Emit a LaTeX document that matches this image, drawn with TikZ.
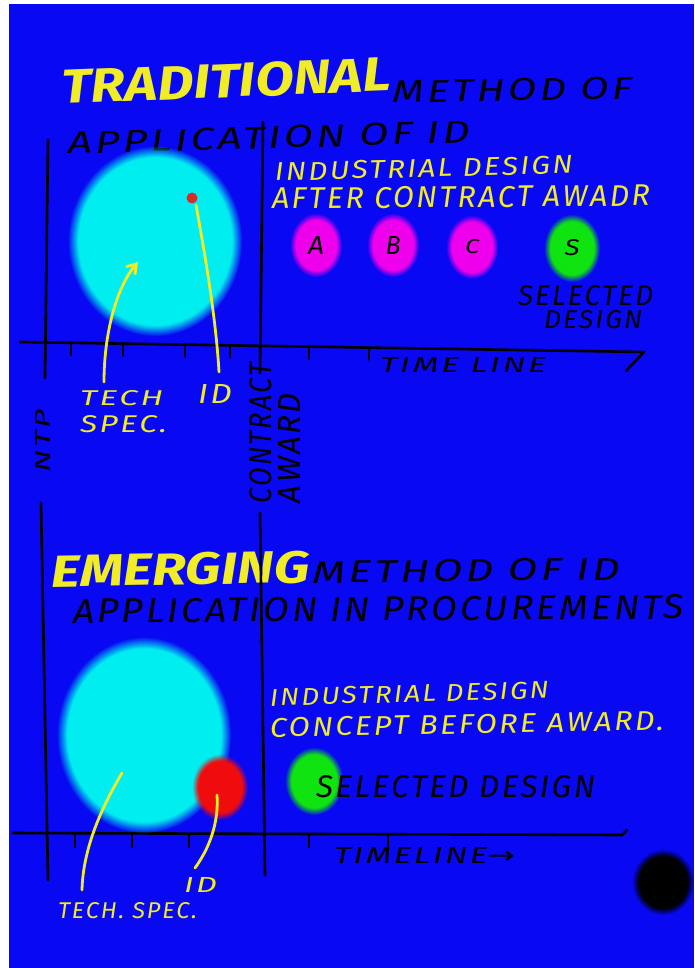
\documentclass[tikz,border=0pt]{standalone}
\usepackage{fontspec}
\usepackage{graphicx}
\setmainfont{Fira Sans}
\newfontfamily\hand[LetterSpace=8]{Fira Sans}
\newfontfamily\arrowfont{DejaVu Sans}
\usetikzlibrary{arrows.meta,fadings}

\definecolor{bg}{RGB}{8,8,242}
\definecolor{cyanA}{RGB}{0,238,240}
\definecolor{magA}{RGB}{238,0,236}
\definecolor{greenA}{RGB}{16,228,16}
\definecolor{redA}{RGB}{240,12,12}
\definecolor{dotred}{RGB}{214,44,44}
\definecolor{hl}{RGB}{240,236,40}

% soft-edged discs: opaque core, fading out towards the rim
\pgfdeclareradialshading{fzwide}{\pgfpointorigin}{color(0bp)=(white); color(22bp)=(white); color(25bp)=(black); color(50bp)=(black)}
\pgfdeclarefading{fuzzywide}{\pgfuseshading{fzwide}}
\pgfdeclareradialshading{fzsmall}{\pgfpointorigin}{color(0bp)=(white); color(19.5bp)=(white); color(25bp)=(black); color(50bp)=(black)}
\pgfdeclarefading{fuzzysmall}{\pgfuseshading{fzsmall}}

\newcommand\fitbox[3]{\resizebox{#1pt}{#2pt}{#3}}

\tikzset{
  txt/.style={inner sep=0pt, outer sep=0pt, anchor=base west},
  blk/.style={txt, text=black, font=\hand\itshape},
  yel/.style={txt, text=hl, font=\hand\itshape},
  ttl/.style={txt, text=hl, font=\bfseries\itshape},
  pen/.style={draw=black, line width=2.6pt, line cap=round, line join=round},
  yline/.style={draw=hl, line width=2.8pt, line cap=round},
  bigblob/.style={path fading=fuzzywide},
  smallblob/.style={path fading=fuzzysmall},
}

\begin{document}
\begin{tikzpicture}[x=1pt,y=-1pt]
\useasboundingbox (0,0) rectangle (694,968);
\fill[white] (0,0) rectangle (694,968);
\fill[bg] (9,4) rectangle (694,968);

% ---------- traditional method ----------
\node[ttl, rotate=2.3] (trad) at (62,104) {\fitbox{330}{34}{TRADITIONAL}};
\node[blk, rotate=1] (meth1) at (392,103) {\fitbox{240}{22}{METHOD OF}};
\node[blk, rotate=1.6] (appl1) at (68,154) {\fitbox{402}{22}{APPLICATION OF ID}};

% axes
\draw[pen] (48,140) -- (45,378);
\draw[pen] (263,122) -- (260,373);
\draw[pen] (20,342) -- (644,352) -- (626,371);
\foreach \t in {71,123,185,230,309,369}
  \draw[pen] (\t,{342+(\t-20)*10/624}) -- ++(0,12);

% tech spec and industrial design blobs
\fill[cyanA, bigblob] (155,241) ellipse [x radius=87, y radius=95];
\fill[dotred] (192,198) circle [radius=5.5];
\coordinate (dot) at (196,205);

\fill[magA, smallblob] (316,245) ellipse [x radius=26, y radius=32];
\fill[magA, smallblob] (393,245) ellipse [x radius=26, y radius=32];
\fill[magA, smallblob] (472,247) ellipse [x radius=26, y radius=32];
\fill[greenA, smallblob] (572,248) ellipse [x radius=28, y radius=34];
\node[blk, anchor=center] (la) at (316,245) {\fitbox{16}{18}{A}};
\node[blk, anchor=center] (lb) at (393,245) {\fitbox{15}{18}{B}};
\node[blk, anchor=center] (lc) at (472,247) {\fitbox{14}{14}{C}};
\node[blk, anchor=center] (ls) at (572,248) {\fitbox{15}{16}{S}};

\node[yel, rotate=1.5] (ind1) at (275,181) {\fitbox{298}{18}{INDUSTRIAL DESIGN}};
\node[yel, rotate=0.5] (aft1) at (272,209) {\fitbox{378}{21}{AFTER CONTRACT AWADR}};
\node[blk] (sel1) at (518,305) {\fitbox{135}{20}{SELECTED}};
\node[blk] (des1) at (544,328) {\fitbox{98}{18}{DESIGN}};
\node[blk] (tl1) at (380,372) {\fitbox{166}{15}{TIME LINE}};

\node[yel] (tech1) at (80,405) {\fitbox{83}{15}{TECH}};
\node[yel] (spec1) at (80,432) {\fitbox{87}{17}{SPEC.}};
\node[yel] (id1) at (198,403) {\fitbox{34}{19}{ID}};

\coordinate (techtail1) at (104,382);
\coordinate (techhead1) at (138,262);
\coordinate (idtail1) at (219,372);
\draw[yline, -{Straight Barb[length=9pt,width=12pt]}] (techtail1) .. controls (104,330) and (118,285) .. (techhead1);
\draw[yline] (dot) .. controls (206,260) and (216,320) .. (idtail1);

% milestone labels
\node[blk, anchor=center, rotate=90] (ntp) at (43,441) {\fitbox{63}{15}{NTP}};
\node[blk, anchor=center, rotate=90] (contract) at (261,433) {\fitbox{140}{22}{CONTRACT}};
\node[blk, anchor=center, rotate=90] (award) at (289,448) {\fitbox{110}{22}{AWARD}};

% ---------- emerging method ----------
\node[ttl, rotate=1] (emer) at (51,587) {\fitbox{259}{32}{EMERGING}};
\node[blk, rotate=0.6] (meth2) at (312,583) {\fitbox{308}{22}{METHOD OF ID}};
\node[blk, rotate=0.4] (appl2) at (73,623) {\fitbox{611}{24}{APPLICATION IN PROCUREMENTS}};

\draw[pen] (41,503) -- (48,880);
\draw[pen] (260,513) -- (265,875);
\draw[pen] (13,833) -- (622,835) -- (627,830);
\foreach \t in {75,132,189,309,388}
  \draw[pen] (\t,834) -- ++(0,13);

\fill[cyanA, bigblob] (144,735) ellipse [x radius=87, y radius=98];
\fill[redA, smallblob] (220,787) ellipse [x radius=28, y radius=33];
\fill[greenA, smallblob] (314,781) ellipse [x radius=29, y radius=34];
\fill[black, smallblob] (663,882) ellipse [x radius=31, y radius=33];

\node[yel, rotate=1.6] (ind2) at (270,706) {\fitbox{279}{17}{INDUSTRIAL DESIGN}};
\node[yel, rotate=1] (con2) at (270,737) {\fitbox{394}{19}{CONCEPT BEFORE AWARD.}};
\node[blk] (sel2) at (316,797) {\fitbox{279}{22}{SELECTED DESIGN}};
\node[blk] (tl2) at (334,863) {\fitbox{181}{16}{TIMELINE{\arrowfont\upshape →}}};

\node[yel] (id2) at (184,892) {\fitbox{33}{15}{ID}};
\node[yel] (tech2) at (58,918) {\fitbox{139}{16}{TECH. SPEC.}};

\coordinate (techtop2) at (122,773);
\coordinate (techend2) at (82,890);
\coordinate (idtop2) at (217,795);
\coordinate (idend2) at (195,868);
\draw[yline] (techtop2) .. controls (100,810) and (83,850) .. (techend2);
\draw[yline] (idtop2) .. controls (219,825) and (208,850) .. (idend2);
\end{tikzpicture}
\end{document}
